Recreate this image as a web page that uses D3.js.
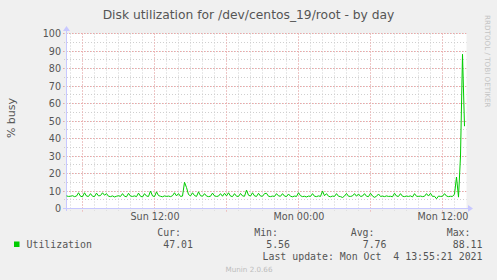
<!DOCTYPE html>
<html>
<head>
<meta charset="utf-8">
<script src="https://cdn.jsdelivr.net/npm/d3@7"></script>
<style>
  body { margin: 0; background: #f0f0f0; }
  svg { display: block; }
  text { font-family: "DejaVu Sans", sans-serif; fill: #555; }
  .mono { font-family: "DejaVu Sans Mono", monospace; }
</style>
</head>
<body>
<script>
// disk utilization, one sample every 10 minutes from Sun 04:40 to Mon 13:50
var startTime = new Date(2021, 9, 3, 4, 40);
var endTime = new Date(2021, 9, 4, 14, 0);
var stepMinutes = 10;

var busy = [
  7.2, 6.9, 7.0, 7.3, 6.8, 7.1, 9.0, 7.0, 6.7, 9.0,
  7.1, 6.9, 8.5, 7.0, 6.8, 8.8, 7.2, 7.4, 9.0, 7.6,
  8.5, 7.0, 6.8, 7.2, 6.6, 7.0, 7.3, 6.9, 8.5, 7.0,
  6.7, 8.7, 7.1, 6.9, 7.2, 6.8, 8.8, 7.0, 6.6, 8.5,
  7.1, 6.9, 10.0, 7.2, 6.8, 9.5, 7.4, 7.0, 6.7, 7.2,
  6.9, 7.1, 6.8, 7.3, 9.0, 7.2, 8.5, 6.9, 7.1, 15.0,
  12.0, 8.0, 7.2, 9.0, 7.4, 6.9, 9.5, 7.3, 7.0, 8.5,
  7.1, 6.8, 7.0, 8.8, 7.2, 6.9, 7.1, 8.5, 7.0, 8.7,
  7.2, 9.0, 7.1, 6.8, 8.5, 7.0, 6.9, 8.6, 7.2, 7.0,
  10.5, 7.6, 7.1, 9.0, 7.2, 6.9, 8.7, 7.1, 7.0, 8.5,
  8.7, 7.0, 6.8, 7.1, 6.9, 8.5, 7.2, 7.0, 8.5, 7.1,
  6.8, 8.3, 7.0, 6.7, 7.1, 6.9, 9.0, 7.3, 6.8, 7.0,
  6.6, 7.1, 6.9, 8.5, 7.0, 6.8, 7.2, 6.9, 10.0, 7.3,
  8.5, 7.0, 6.7, 7.1, 6.9, 8.5, 7.0, 6.8, 6.3, 7.1,
  8.6, 7.0, 6.9, 7.2, 8.5, 7.0, 8.3, 6.9, 7.1, 8.5,
  7.0, 6.8, 8.7, 7.1, 6.4, 7.0, 8.3, 6.9, 7.1, 6.8,
  7.2, 6.9, 7.0, 6.7, 8.7, 7.1, 6.9, 8.5, 7.0, 6.8,
  7.1, 6.9, 7.2, 6.6, 8.5, 7.0, 6.9, 7.1, 6.8, 7.0,
  8.5, 7.1, 8.7, 6.9, 7.0, 5.56, 7.1, 6.9, 7.0, 8.5,
  7.1, 6.8, 7.0, 6.9, 8.2, 18.0, 6.5, 30.0, 88.11, 47.01
];

var yTicks = [0, 10, 20, 30, 40, 50, 60, 70, 80, 90, 100];
var legendHeads = ["Cur:", "Min:", "Avg:", "Max:"];
var legendValues = ["47.01", "5.56", "7.76", "88.11"];

var width = 497,
    height = 280;

var svg = d3.select("body").append("svg")
    .attr("width", width)
    .attr("height", height);

svg.append("rect").attr("width", width).attr("height", height).attr("fill", "#f0f0f0");

var x = d3.scaleTime().domain([startTime, endTime]).range([66.5, 466.5]);
var y = d3.scaleLinear().domain([0, 100]).range([208.5, 33.5]);

// plot canvas
svg.append("rect")
    .attr("x", 66.5).attr("y", 33.5)
    .attr("width", 400).attr("height", 175)
    .attr("fill", "#fff");

// grid: minor first, then major
var minorX = d3.timeHour.every(1).range(startTime, endTime);
var majorX = d3.timeHour.every(6).range(startTime, endTime);
var minorY = d3.range(5, 101, 5);
var majorY = d3.range(10, 101, 10);

function px(v) { return Math.round(v - 0.5) + 0.5; }

var grid = svg.append("g");
grid.selectAll(".mx").data(minorX).enter().append("line")
    .attr("x1", function(d) { return px(x(d)); })
    .attr("x2", function(d) { return px(x(d)); })
    .attr("y1", 33.5).attr("y2", 211)
    .attr("stroke", "#cfcfcf").attr("stroke-dasharray", "1,2");
grid.selectAll(".my").data(minorY).enter().append("line")
    .attr("x1", 64).attr("x2", 466.5)
    .attr("y1", function(d) { return px(y(d)); })
    .attr("y2", function(d) { return px(y(d)); })
    .attr("stroke", "#cfcfcf").attr("stroke-dasharray", "1,2");
grid.selectAll(".Mx").data(majorX).enter().append("line")
    .attr("x1", function(d) { return px(x(d)); })
    .attr("x2", function(d) { return px(x(d)); })
    .attr("y1", 33.5).attr("y2", 212)
    .attr("stroke", "#f4a4a4").attr("stroke-dasharray", "1,2");
grid.selectAll(".My").data(majorY).enter().append("line")
    .attr("x1", 63).attr("x2", 466.5)
    .attr("y1", function(d) { return px(y(d)); })
    .attr("y2", function(d) { return px(y(d)); })
    .attr("stroke", "#f4a4a4").attr("stroke-dasharray", "1,2");

// axes lines with arrows
var axisCol = "#c8c8ff";
svg.append("line").attr("x1", 63).attr("x2", 469).attr("y1", 208.5).attr("y2", 208.5).attr("stroke", axisCol);
svg.append("line").attr("x1", 66.5).attr("x2", 66.5).attr("y1", 211).attr("y2", 29).attr("stroke", axisCol);
svg.append("path").attr("d", "M468,205 L473,208.5 L468,212 Z").attr("fill", axisCol);
svg.append("path").attr("d", "M63,31 L66.5,26 L70,31 Z").attr("fill", axisCol);

// y tick labels
svg.append("g")
    .attr("transform", "translate(61,0)")
    .call(d3.axisLeft(y).tickValues(yTicks).tickSize(0).tickPadding(0))
    .call(function(g) { g.select(".domain").remove(); })
    .selectAll("text")
    .attr("font-family", "DejaVu Sans").attr("font-size", 9.6).attr("fill", "#555");

// x tick labels
svg.append("g")
    .attr("transform", "translate(0,211)")
    .call(d3.axisBottom(x).ticks(d3.timeHour.every(12)).tickFormat(d3.timeFormat("%a %H:%M")).tickSize(0).tickPadding(2))
    .call(function(g) { g.select(".domain").remove(); })
    .selectAll("text")
    .attr("font-family", "DejaVu Sans").attr("font-size", 9.6).attr("fill", "#555");

// series
var line = d3.line()
    .x(function(d, i) { return x(d3.timeMinute.offset(startTime, i * stepMinutes)); })
    .y(function(d) { return y(d); });

svg.append("path")
    .datum(busy)
    .attr("d", line)
    .attr("fill", "none")
    .attr("stroke", "#00cc00")
    .attr("stroke-width", 1);

// title and side texts
svg.append("text")
    .attr("x", 248.5).attr("y", 19)
    .attr("text-anchor", "middle")
    .attr("font-size", 12.3)
    .style("fill", "#555")
    .text("Disk utilization for /dev/centos_19/root - by day");

svg.append("text")
    .attr("transform", "translate(15,118) rotate(-90)")
    .attr("text-anchor", "middle")
    .attr("font-size", 11)
    .text("% busy");

svg.append("text")
    .attr("transform", "translate(485,15) rotate(90)")
    .attr("font-size", 7.2)
    .style("fill", "#c4c4c4")
    .text("RRDTOOL / TOBI OETIKER");

// legend
svg.append("rect")
    .attr("x", 14).attr("y", 241.5).attr("width", 5.5).attr("height", 5.5)
    .attr("fill", "#00cc00");

svg.append("text").attr("class", "mono")
    .attr("x", 26.5).attr("y", 247.5)
    .attr("font-size", 9.9)
    .text("Utilization");

var headRight = [181, 278, 374.5, 470.5];
var valueRight = [193, 290, 386.5, 482.5];

svg.selectAll(".lh").data(legendHeads).enter().append("text")
    .attr("class", "mono")
    .attr("x", function(d, i) { return headRight[i]; })
    .attr("y", 236)
    .attr("text-anchor", "end")
    .attr("font-size", 9.9)
    .text(function(d) { return d; });

svg.selectAll(".lv").data(legendValues).enter().append("text")
    .attr("class", "mono")
    .attr("x", function(d, i) { return valueRight[i]; })
    .attr("y", 247.5)
    .attr("text-anchor", "end")
    .attr("font-size", 9.9)
    .text(function(d) { return d; });

svg.append("text").attr("class", "mono")
    .attr("x", 482.5).attr("y", 259.5)
    .attr("text-anchor", "end")
    .attr("font-size", 9.9)
    .attr("xml:space", "preserve")
    .style("white-space", "pre")
    .text("Last update: Mon Oct  4 13:55:21 2021");

svg.append("text")
    .attr("x", 249).attr("y", 271.5)
    .attr("text-anchor", "middle")
    .attr("font-size", 7.2)
    .style("fill", "#bdbdbd")
    .text("Munin 2.0.66");
</script>
</body>
</html>
